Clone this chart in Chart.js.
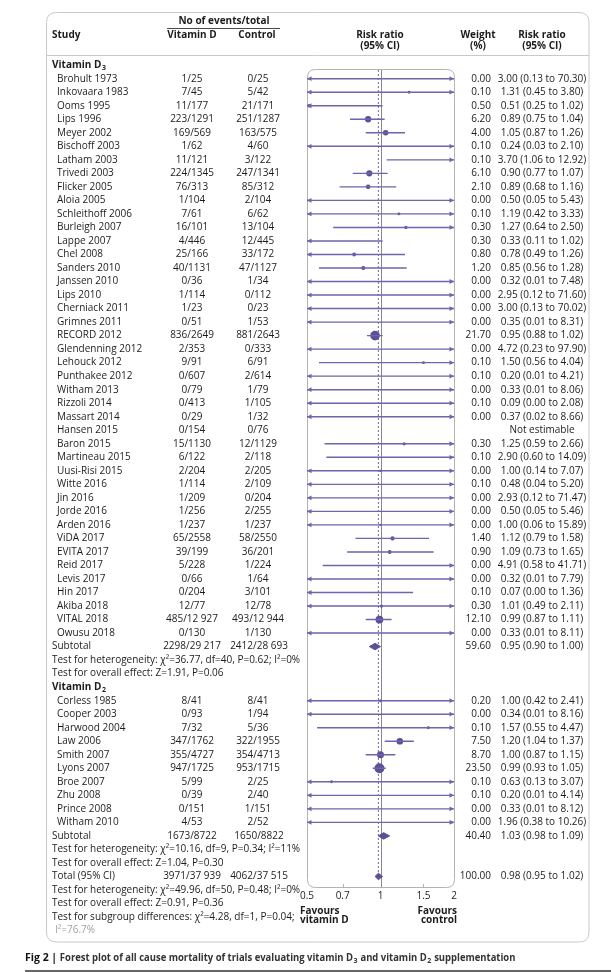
<!DOCTYPE html>
<html lang="en">
<head>
  <meta charset="UTF-8" />
  <title>Forest plot - all cause mortality</title>
  <script src="https://cdn.jsdelivr.net/npm/chart.js"></script>
  <style>
    body { margin: 0; padding: 0; background: #fff; }
    .wrap { width: 611px; height: 972px; }
  </style>
</head>
<body>
  <div class="wrap"><canvas id="forest" width="611" height="972"></canvas></div>

  <script>
    // ---- data ----
    const d3Study = ['Brohult 1973', 'Inkovaara 1983', 'Ooms 1995', 'Lips 1996', 'Meyer 2002', 'Bischoff 2003',
      'Latham 2003', 'Trivedi 2003', 'Flicker 2005', 'Aloia 2005', 'Schleithoff 2006', 'Burleigh 2007', 'Lappe 2007',
      'Chel 2008', 'Sanders 2010', 'Janssen 2010', 'Lips 2010', 'Cherniack 2011', 'Grimnes 2011', 'RECORD 2012',
      'Glendenning 2012', 'Lehouck 2012', 'Punthakee 2012', 'Witham 2013', 'Rizzoli 2014', 'Massart 2014',
      'Hansen 2015', 'Baron 2015', 'Martineau 2015', 'Uusi-Risi 2015', 'Witte 2016', 'Jin 2016', 'Jorde 2016',
      'Arden 2016', 'ViDA 2017', 'EVITA 2017', 'Reid 2017', 'Levis 2017', 'Hin 2017', 'Akiba 2018', 'VITAL 2018',
      'Owusu 2018'];
    const d3VitD = ['1/25', '7/45', '11/177', '223/1291', '169/569', '1/62', '11/121', '224/1345', '76/313', '1/104',
      '7/61', '16/101', '4/446', '25/166', '40/1131', '0/36', '1/114', '1/23', '0/51', '836/2649', '2/353', '9/91',
      '0/607', '0/79', '0/413', '0/29', '0/154', '15/1130', '6/122', '2/204', '1/114', '1/209', '1/256', '1/237',
      '65/2558', '39/199', '5/228', '0/66', '0/204', '12/77', '485/12 927', '0/130'];
    const d3Ctrl = ['0/25', '5/42', '21/171', '251/1287', '163/575', '4/60', '3/122', '247/1341', '85/312', '2/104',
      '6/62', '13/104', '12/445', '33/172', '47/1127', '1/34', '0/112', '0/23', '1/53', '881/2643', '0/333', '6/91',
      '2/614', '1/79', '1/105', '1/32', '0/76', '12/1129', '2/118', '2/205', '2/109', '0/204', '2/255', '1/237',
      '58/2550', '36/201', '1/224', '1/64', '3/101', '12/78', '493/12 944', '1/130'];
    const d3Weight = [0.00, 0.10, 0.50, 6.20, 4.00, 0.10, 0.10, 6.10, 2.10, 0.00, 0.10, 0.30, 0.30, 0.80, 1.20, 0.00,
      0.00, 0.00, 0.00, 21.70, 0.00, 0.10, 0.10, 0.00, 0.10, 0.00, null, 0.30, 0.10, 0.00, 0.10, 0.00, 0.00, 0.00,
      1.40, 0.90, 0.00, 0.00, 0.10, 0.30, 12.10, 0.00];
    const d3RR = [3.00, 1.31, 0.51, 0.89, 1.05, 0.24, 3.70, 0.90, 0.89, 0.50, 1.19, 1.27, 0.33, 0.78, 0.85, 0.32, 2.95,
      3.00, 0.35, 0.95, 4.72, 1.50, 0.20, 0.33, 0.09, 0.37, null, 1.25, 2.90, 1.00, 0.48, 2.93, 0.50, 1.00, 1.12, 1.09,
      4.91, 0.32, 0.07, 1.01, 0.99, 0.33];
    const d3Lo = [0.13, 0.45, 0.25, 0.75, 0.87, 0.03, 1.06, 0.77, 0.68, 0.05, 0.42, 0.64, 0.11, 0.49, 0.56, 0.01, 0.12,
      0.13, 0.01, 0.88, 0.23, 0.56, 0.01, 0.01, 0.00, 0.02, null, 0.59, 0.60, 0.14, 0.04, 0.12, 0.05, 0.06, 0.79, 0.73,
      0.58, 0.01, 0.00, 0.49, 0.87, 0.01];
    const d3Hi = [70.30, 3.80, 1.02, 1.04, 1.26, 2.10, 12.92, 1.07, 1.16, 5.43, 3.33, 2.50, 1.02, 1.26, 1.28, 7.48,
      71.60, 70.02, 8.31, 1.02, 97.90, 4.04, 4.21, 8.06, 2.08, 8.66, null, 2.66, 14.09, 7.07, 5.20, 71.47, 5.46, 15.89,
      1.58, 1.65, 41.71, 7.79, 1.36, 2.11, 1.11, 8.11];

    const d2Study = ['Corless 1985', 'Cooper 2003', 'Harwood 2004', 'Law 2006', 'Smith 2007', 'Lyons 2007',
      'Broe 2007', 'Zhu 2008', 'Prince 2008', 'Witham 2010'];
    const d2VitD = ['8/41', '0/93', '7/32', '347/1762', '355/4727', '947/1725', '5/99', '0/39', '0/151', '4/53'];
    const d2Ctrl = ['8/41', '1/94', '5/36', '322/1955', '354/4713', '953/1715', '2/25', '2/40', '1/151', '2/52'];
    const d2Weight = [0.20, 0.00, 0.10, 7.50, 8.70, 23.50, 0.10, 0.10, 0.00, 0.00];
    const d2RR = [1.00, 0.34, 1.57, 1.20, 1.00, 0.99, 0.63, 0.20, 0.33, 1.96];
    const d2Lo = [0.42, 0.01, 0.55, 1.04, 0.87, 0.93, 0.13, 0.01, 0.01, 0.38];
    const d2Hi = [2.41, 8.16, 4.47, 1.37, 1.15, 1.05, 3.07, 4.14, 8.12, 10.26];

    // pooled rows: subtotal D3, subtotal D2, total
    const pooledLabel = ['Subtotal', 'Subtotal', 'Total (95% CI)'];
    const pooledVitD = ['2298/29 217', '1673/8722', '3971/37 939'];
    const pooledCtrl = ['2412/28 693', '1650/8822', '4062/37 515'];
    const pooledWeight = [59.60, 40.40, 100.00];
    const pooledRR = [0.95, 1.03, 0.98];
    const pooledLo = [0.90, 0.98, 0.95];
    const pooledHi = [1.00, 1.09, 1.02];

    const testsD3 = ['Test for heterogeneity: \u03c7\u00b2=36.77, df=40, P=0.62; I\u00b2=0%',
      'Test for overall effect: Z=1.91, P=0.06'];
    const testsD2 = ['Test for heterogeneity: \u03c7\u00b2=10.16, df=9, P=0.34; I\u00b2=11%',
      'Test for overall effect: Z=1.04, P=0.30'];
    const testsTotal = ['Test for heterogeneity: \u03c7\u00b2=49.96, df=50, P=0.48; I\u00b2=0%',
      'Test for overall effect: Z=0.91, P=0.36',
      'Test for subgroup differences: \u03c7\u00b2=4.28, df=1, P=0.04;',
      'I\u00b2=76.7%'];

    const xTicks = [0.5, 0.7, 1, 1.5, 2];
    const X_MIN = 0.5, X_MAX = 2;

    // ---- build the row list ----
    const rows = [];
    let r = -1;
    rows.push({ row: r++, kind: 'group', text: 'Vitamin D', sub: '3' });
    d3Study.forEach((s, i) => rows.push({ row: r++, kind: 'study', text: s, a: d3VitD[i], b: d3Ctrl[i],
      w: d3Weight[i], rr: d3RR[i], lo: d3Lo[i], hi: d3Hi[i] }));
    const poolRow = [];
    poolRow.push(r);
    rows.push({ row: r++, kind: 'pool', p: 0 });
    testsD3.forEach(t => rows.push({ row: r++, kind: 'test', text: t }));
    rows.push({ row: r++, kind: 'group', text: 'Vitamin D', sub: '2' });
    d2Study.forEach((s, i) => rows.push({ row: r++, kind: 'study', text: s, a: d2VitD[i], b: d2Ctrl[i],
      w: d2Weight[i], rr: d2RR[i], lo: d2Lo[i], hi: d2Hi[i] }));
    poolRow.push(r);
    rows.push({ row: r++, kind: 'pool', p: 1 });
    testsD2.forEach(t => rows.push({ row: r++, kind: 'test', text: t }));
    poolRow.push(r);
    rows.push({ row: r++, kind: 'pool', p: 2 });
    testsTotal.forEach((t, i) => rows.push({ row: r++, kind: i === 3 ? 'faint' : 'test', text: t }));

    // ---- datasets ----
    const ciData = [], dotData = [], dotRadius = [], arrows = [];
    rows.filter(o => o.kind === 'study' && o.rr != null).forEach(o => {
      ciData.push({ x: Math.max(o.lo, X_MIN), y: o.row }, { x: Math.min(o.hi, X_MAX), y: o.row }, { x: null, y: null });
      if (o.rr >= X_MIN && o.rr <= X_MAX) {
        dotData.push({ x: o.rr, y: o.row });
        dotRadius.push(1.2 + 0.78 * Math.sqrt(o.w));
      }
      if (o.lo < X_MIN) arrows.push({ x: X_MIN, y: o.row, dir: -1 });
      if (o.hi > X_MAX) arrows.push({ x: X_MAX, y: o.row, dir: 1 });
    });

    const diamonds = pooledRR.map((rr, i) => {
      const y = poolRow[i];
      return {
        type: 'scatter', showLine: true, fill: 'shape', pointRadius: 0, borderWidth: 1,
        borderColor: '#5b4f96', backgroundColor: '#5b4f96',
        data: [{ x: pooledLo[i], y: y }, { x: rr, y: y - 0.24 }, { x: pooledHi[i], y: y },
               { x: rr, y: y + 0.24 }, { x: pooledLo[i], y: y }]
      };
    });

    const LINE = '#6f65aa';
    const TEXT = '#1e1b1c';
    const FONT = "'Open Sans', 'Noto Sans', sans-serif";

    function roundBox(ctx, x, y, w, h, rad) {
      ctx.beginPath();
      ctx.moveTo(x + rad, y);
      ctx.lineTo(x + w - rad, y);
      ctx.quadraticCurveTo(x + w, y, x + w, y + rad);
      ctx.lineTo(x + w, y + h - rad);
      ctx.quadraticCurveTo(x + w, y + h, x + w - rad, y + h);
      ctx.lineTo(x + rad, y + h);
      ctx.quadraticCurveTo(x, y + h, x, y + h - rad);
      ctx.lineTo(x, y + rad);
      ctx.quadraticCurveTo(x, y, x + rad, y);
      ctx.closePath();
    }

    function txt(ctx, s, x, y, align, font, color) {
      ctx.font = font;
      ctx.fillStyle = color || TEXT;
      ctx.textAlign = align;
      ctx.textBaseline = 'middle';
      ctx.fillText(s, x, y);
    }

    function subText(ctx, s, sub, x, y, size, bold) {
      const w = bold ? 'bold ' : '';
      txt(ctx, s, x, y, 'left', w + size + 'px ' + FONT);
      const width = ctx.measureText(s).width;
      txt(ctx, sub, x + width + 0.5, y + 3, 'left', w + (size - 3) + 'px ' + FONT);
    }

    const forestPlugin = {
      id: 'forest',
      beforeDatasetsDraw(chart) {
        const { ctx, chartArea: ca, scales: { x, y } } = chart;
        ctx.save();
        // outer frame and header rule
        ctx.strokeStyle = '#c9c9c9';
        ctx.lineWidth = 1;
        roundBox(ctx, 46.5, 12.5, 542.5, 929.5, 10);
        ctx.stroke();
        ctx.beginPath();
        ctx.moveTo(46.5, 55.5); ctx.lineTo(589, 55.5);
        ctx.stroke();
        // plot frame
        ctx.strokeStyle = '#b3b3b3';
        roundBox(ctx, ca.left + 0.5, ca.top + 0.5, ca.right - ca.left, ca.bottom - ca.top, 8);
        ctx.stroke();
        // axis ticks on the bottom edge
        xTicks.slice(1, -1).forEach(v => {
          const px = Math.round(x.getPixelForValue(v)) + 0.5;
          ctx.beginPath();
          ctx.moveTo(px, ca.bottom + 0.5); ctx.lineTo(px, ca.bottom - 3);
          ctx.stroke();
        });
        // line of no effect
        const x1 = Math.round(x.getPixelForValue(1)) + 0.5;
        ctx.strokeStyle = '#8a8a8a';
        ctx.beginPath();
        ctx.moveTo(x1, ca.top + 1); ctx.lineTo(x1, ca.bottom);
        ctx.stroke();
        // overall estimate (dashed)
        const xo = x.getPixelForValue(pooledRR[2]);
        ctx.strokeStyle = LINE;
        ctx.setLineDash([2, 2]);
        ctx.beginPath();
        ctx.moveTo(xo, ca.top + 1); ctx.lineTo(xo, y.getPixelForValue(poolRow[2]));
        ctx.stroke();
        ctx.restore();
      },
      afterDatasetsDraw(chart) {
        const { ctx, scales: { x, y } } = chart;
        ctx.save();
        ctx.fillStyle = LINE;
        arrows.forEach(a => {
          const px = x.getPixelForValue(a.x), py = y.getPixelForValue(a.y);
          ctx.beginPath();
          ctx.moveTo(px, py);
          ctx.lineTo(px - a.dir * 4.5, py - 2.4);
          ctx.lineTo(px - a.dir * 4.5, py + 2.4);
          ctx.closePath();
          ctx.fill();
        });
        ctx.restore();
      },
      afterDraw(chart) {
        const { ctx, scales: { x, y } } = chart;
        const normal = '10px ' + FONT, bold = 'bold 10px ' + FONT;
        ctx.save();
        // column headers
        txt(ctx, 'No of events/total', 224, 21, 'center', bold);
        ctx.strokeStyle = TEXT; ctx.lineWidth = 0.8;
        ctx.beginPath(); ctx.moveTo(167, 28.5); ctx.lineTo(280, 28.5); ctx.stroke();
        txt(ctx, 'Study', 52, 35, 'left', bold);
        txt(ctx, 'Vitamin D', 192, 35, 'center', bold);
        txt(ctx, 'Control', 257, 35, 'center', bold);
        txt(ctx, 'Risk ratio', 380, 35, 'center', bold);
        txt(ctx, '(95% CI)', 380, 46, 'center', bold);
        txt(ctx, 'Weight', 478, 35, 'center', bold);
        txt(ctx, '(%)', 478, 46, 'center', bold);
        txt(ctx, 'Risk ratio', 542, 35, 'center', bold);
        txt(ctx, '(95% CI)', 542, 46, 'center', bold);

        rows.forEach(o => {
          const py = y.getPixelForValue(o.row);
          if (o.kind === 'group') {
            subText(ctx, o.text, o.sub, 52, py, 10, true);
          } else if (o.kind === 'study') {
            txt(ctx, o.text, 57, py, 'left', normal);
            txt(ctx, o.a, 192, py, 'center', normal);
            txt(ctx, o.b, 258, py, 'center', normal);
            if (o.rr == null) {
              txt(ctx, 'Not estimable', 542, py, 'center', normal);
            } else {
              txt(ctx, o.w.toFixed(2), 491, py, 'right', normal);
              txt(ctx, o.rr.toFixed(2) + ' (' + o.lo.toFixed(2) + ' to ' + o.hi.toFixed(2) + ')', 542, py, 'center', normal);
            }
          } else if (o.kind === 'pool') {
            const p = o.p;
            txt(ctx, pooledLabel[p], 52, py, 'left', normal);
            txt(ctx, pooledVitD[p], 192, py, 'center', normal);
            txt(ctx, pooledCtrl[p], 259, py, 'center', normal);
            txt(ctx, pooledWeight[p].toFixed(2), 491, py, 'right', normal);
            txt(ctx, pooledRR[p].toFixed(2) + ' (' + pooledLo[p].toFixed(2) + ' to ' + pooledHi[p].toFixed(2) + ')', 542, py, 'center', normal);
          } else if (o.kind === 'test') {
            txt(ctx, o.text, 52, py, 'left', normal);
          } else {
            txt(ctx, o.text, 55, py, 'left', normal, '#a0a0a0');
          }
        });

        // x axis labels
        xTicks.forEach(v => txt(ctx, String(v), x.getPixelForValue(v), 896, 'center', normal));
        txt(ctx, 'Favours', 300, 911, 'left', bold);
        txt(ctx, 'vitamin D', 300, 920, 'left', bold);
        txt(ctx, 'Favours', 457, 911, 'right', bold);
        txt(ctx, 'control', 457, 920, 'right', bold);

        // caption
        ctx.font = 'bold 10.5px ' + FONT;
        const head = 'Fig 2 | ';
        txt(ctx, head, 25, 958, 'left', 'bold 10.5px ' + FONT, '#111');
        const hw = ctx.measureText(head).width;
        const parts = [['Forest plot of all cause mortality of trials evaluating vitamin D', '3'],
                       [' and vitamin D', '2'], [' supplementation', '']];
        let cx = 25 + hw;
        const scale = 0.9;
        parts.forEach(([s, sub]) => {
          ctx.font = 'bold 10.5px ' + FONT;
          ctx.fillStyle = '#333';
          ctx.textAlign = 'left';
          ctx.textBaseline = 'middle';
          const w = ctx.measureText(s).width * scale;
          ctx.fillText(s, cx, 958, w);
          cx += w;
          if (sub) {
            ctx.font = 'bold 7px ' + FONT;
            ctx.fillText(sub, cx + 0.5, 961);
            cx += ctx.measureText(sub).width + 1;
          }
        });
        ctx.strokeStyle = '#333'; ctx.lineWidth = 1.5;
        ctx.beginPath(); ctx.moveTo(25, 971); ctx.lineTo(611, 971); ctx.stroke();
        ctx.restore();
      }
    };

    const chart = new Chart(document.getElementById('forest').getContext('2d'), {
      type: 'scatter',
      data: {
        datasets: [
          { data: ciData, showLine: true, borderColor: LINE, borderWidth: 1.4, pointRadius: 0, spanGaps: false },
          { data: dotData, pointRadius: dotRadius, pointHoverRadius: dotRadius, backgroundColor: '#5b4f96',
            borderWidth: 0, pointStyle: 'circle' },
          ...diamonds
        ]
      },
      options: {
        responsive: false,
        animation: false,
        events: [],
        layout: { padding: { left: 307, right: 157, top: 69, bottom: 85 } },
        scales: {
          x: { type: 'logarithmic', min: X_MIN, max: X_MAX, display: false },
          y: { type: 'linear', reverse: true, min: -0.7175, max: 59.78, display: false }
        },
        plugins: { legend: { display: false }, tooltip: { enabled: false } }
      },
      plugins: [forestPlugin]
    });
  </script>
</body>
</html>
